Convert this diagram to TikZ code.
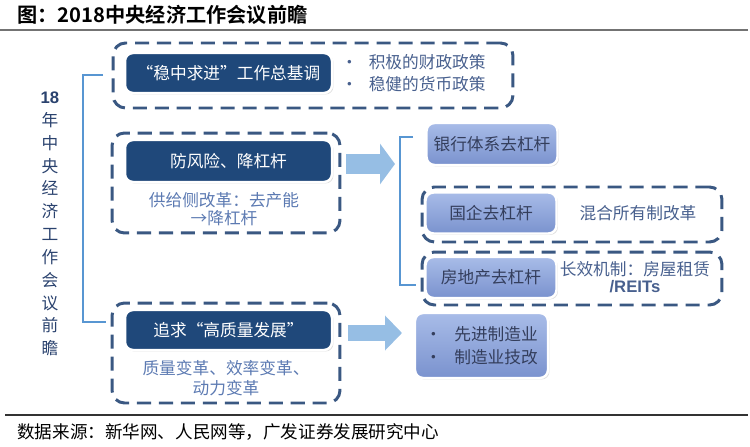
\documentclass[tikz,border=0pt]{standalone}
\usepackage{fontspec}
\setmainfont{Noto Sans CJK SC}[BoldFont={Noto Sans CJK SC Bold}]
\newfontfamily\latinsans{Liberation Sans}
\usetikzlibrary{arrows.meta, positioning, shadows}
\definecolor{NavyFill}{RGB}{31,72,122}
\definecolor{DashLine}{RGB}{58,88,130}
\definecolor{LiteTop}{RGB}{168,188,232}
\definecolor{LiteBot}{RGB}{122,146,206}
\definecolor{LiteText}{RGB}{52,62,92}
\definecolor{SubText}{RGB}{92,122,178}
\definecolor{NoteText}{RGB}{72,96,142}
\definecolor{BrkLine}{RGB}{88,150,210}
\definecolor{ArrFill}{RGB}{150,190,228}
\definecolor{SideText}{RGB}{42,66,110}

\begin{document}
\begin{tikzpicture}[
    x=0.02cm, y=-0.02cm,
    txt/.style={font=\fontsize{9.5}{12.5}\selectfont, inner sep=2pt},
    navybox/.style={
        txt, rectangle, rounded corners=0.16cm, fill=NavyFill,
        draw=white, line width=1.4pt, text=white,
        minimum width=4.14cm, minimum height=0.8cm,
        drop shadow={opacity=0.25, shadow xshift=0.03cm, shadow yshift=-0.03cm}
    },
    litebox/.style={
        txt, rectangle, rounded corners=0.16cm,
        top color=LiteTop, bottom color=LiteBot,
        draw=white, line width=1.4pt, text=LiteText,
        minimum width=2.62cm, minimum height=0.82cm,
        drop shadow={opacity=0.25, shadow xshift=0.03cm, shadow yshift=-0.03cm}
    },
    grpbox/.style={
        rectangle, rounded corners=0.25cm, draw=DashLine,
        line width=1.7pt, dash pattern=on 8pt off 4.5pt
    },
    subtxt/.style={txt, text=SubText, align=center},
    note/.style={txt, text=NoteText, align=left},
    brk/.style={draw=BrkLine, line width=1.7pt},
    fatarr/.style={draw=ArrFill, line width=0.4cm,
        -{Triangle[width=0.8cm, length=0.3cm]}}
]
\useasboundingbox (0,0) rectangle (750,446);

% ===================================================================
% Title and rules
% ===================================================================
\node[anchor=west, font=\fontsize{11.5}{13}\selectfont\bfseries,
      inner sep=0pt] (title) at (17,15) {图：2018中央经济工作会议前瞻};
\draw[draw=black!55, line width=1.3pt] (0,30) -- (748,30);
\draw[draw=black!80, line width=0.8pt] (5,415) -- (748,415);
\node[anchor=west, font=\fontsize{10}{12}\selectfont,
      inner sep=0pt] (source) at (17,432)
    {数据来源：新华网、人民网等，广发证券发展研究中心};

% ===================================================================
% Left side caption and bracket
% ===================================================================
\node[font=\fontsize{9.5}{13}\selectfont, text=SideText, align=center]
    (side) at (50,224)
    {{\latinsans\bfseries 18}\\年\\中\\央\\经\\济\\工\\作\\会\\议\\前\\瞻};

\coordinate (lbTop) at (103,75);
\coordinate (lbBot) at (106,322);
\draw[brk] (lbTop) -- ++(-20,0) |- (lbBot);

% ===================================================================
% Dashed groups (drawn first)
% ===================================================================
\node[grpbox, minimum width=8cm, minimum height=1.3cm] (grpA) at (313,75.5) {};
\node[grpbox, minimum width=4.56cm, minimum height=2cm] (grpB) at (226,183) {};
\node[grpbox, minimum width=4.56cm, minimum height=2cm] (grpC) at (226,353) {};
\node[grpbox, minimum width=6cm, minimum height=1.1cm] (grpD) at (572,214.5) {};
\node[grpbox, minimum width=6cm, minimum height=1.06cm] (grpE) at (572,278.5) {};

% ===================================================================
% Left column: main themes
% ===================================================================
\node[navybox] (wzqj) at (228.5,73) {“稳中求进”工作总基调};
\node[note, right=0.08cm of wzqj, font=\fontsize{9.5}{12.5}\selectfont]
    (policy) {•\hspace{0.22cm}积极的财政政策\\•\hspace{0.22cm}稳健的货币政策};

\node[navybox, minimum height=0.84cm] (ffx) at (228.5,161) {防风险、降杠杆};
\node[subtxt, font=\fontsize{9.5}{10.2}\selectfont] (gjc) at (224,209)
    {供给侧改革：去产能\\→降杠杆};

\node[navybox] (gzl) at (228.5,330) {追求“高质量发展”};
\node[subtxt, font=\fontsize{9.5}{11.3}\selectfont] (bg) at (226,378)
    {质量变革、效率变革、\\动力变革};

% ===================================================================
% Right column: deleveraging and manufacturing
% ===================================================================
\coordinate (rbTop) at (413,137);
\coordinate (rbBot) at (416,285);
\draw[brk] (rbTop) -- ++(-13,0) |- (rbBot);

\node[litebox, minimum height=0.84cm] (yh) at (492,144) {银行体系去杠杆};
\node[litebox] (gq) at (491,213) {国企去杠杆};
\node[litebox] (fdc) at (491,277.5) {房地产去杠杆};

\node[note, right=0.36cm of gq] (hhsy) {混合所有制改革};
\node[note, anchor=west, inner sep=1pt] (zf) at ([yshift=0.16cm]fdc.east)
    {长效机制：房屋租赁};
\node[note, below=-0.06cm of zf, font=\latinsans\bfseries\fontsize{9.5}{11}\selectfont]
    (reits) {/REITs};

\node[litebox, minimum width=2.66cm, minimum height=1.3cm, align=left,
      font=\fontsize{9.5}{13}\selectfont] (zzy) at (481.5,345.5)
    {•\hspace{0.25cm}先进制造业\\•\hspace{0.25cm}制造业技改};

% Big arrows
\coordinate (tipB) at (395,164);
\coordinate (tipC) at (402,333);
\draw[fatarr] ([xshift=0.1cm]ffx -| grpB.east) ++(0,3) -- (tipB);
\draw[fatarr, line width=0.32cm,
      -{Triangle[width=0.68cm, length=0.34cm]}]
    ([xshift=0.14cm]gzl -| grpC.east) ++(0,3) -- (tipC);

\end{tikzpicture}
\end{document}
